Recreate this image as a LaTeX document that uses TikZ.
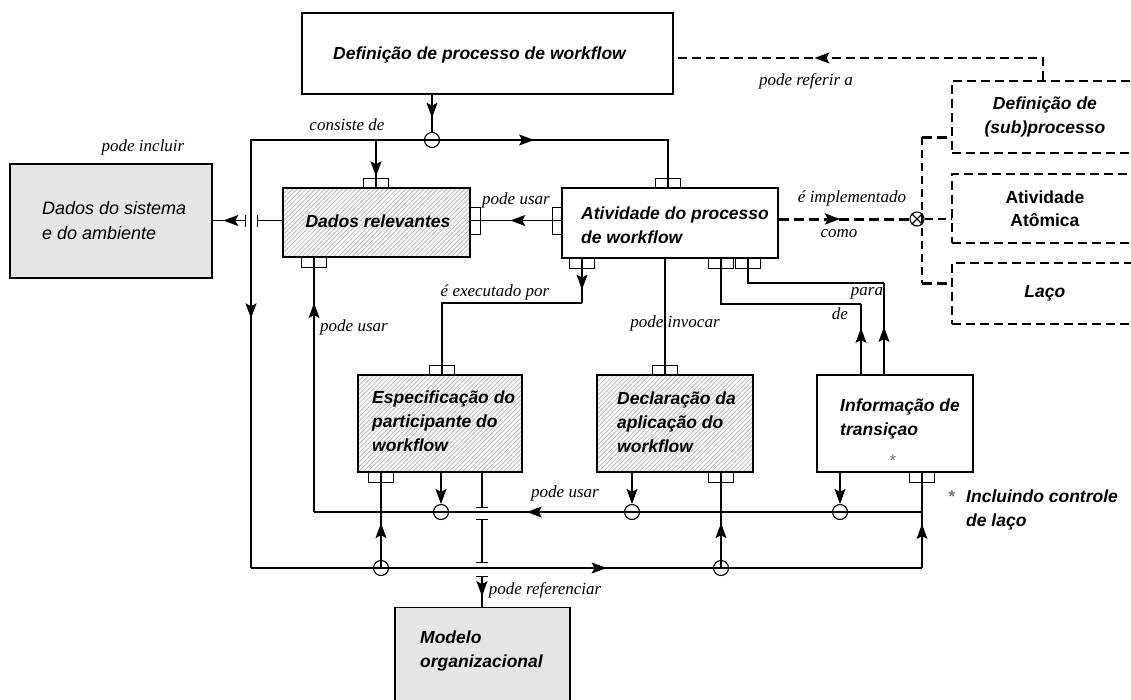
\documentclass[tikz,border=0pt]{standalone}
\usepackage{fontspec}
\newfontfamily\sansfam{Liberation Sans}
\newfontfamily\labelfam{Liberation Serif}
\usetikzlibrary{arrows.meta,patterns.meta,decorations.markings,calc}
\definecolor{boxgray}{gray}{0.90}
\definecolor{hatchbg}{gray}{0.96}
\definecolor{hatchln}{gray}{0.68}
\definecolor{stargray}{gray}{0.45}

\tikzset{
  conn/.style={line width=1.1pt},
  dconn/.style={line width=1.8pt, dash pattern=on 9pt off 5pt},
  dthick/.style={line width=3pt, dash pattern=on 10pt off 5pt},
  dthin/.style={line width=1.3pt, dash pattern=on 8pt off 5pt},
  tipend/.style={-{Stealth[length=15pt,width=11pt,inset=3pt]}},
  midtip/.style={postaction={decorate, decoration={markings,
      mark=at position #1 with {\arrow{Stealth[length=15pt,width=11pt,inset=3pt]}}}}},
  barend/.style={-{Bar[width=12pt,line width=1.1pt]}},
  barstart/.style={{Bar[width=12pt,line width=1.1pt]}-},
  barboth/.style={{Bar[width=12pt,line width=1.1pt]}-{Bar[width=12pt,line width=1.1pt]}},
  frame/.style={draw, line width=1.1pt, inner sep=0pt},
  graybox/.style={frame, fill=boxgray},
  hatchbox/.style={frame, preaction={fill=hatchbg},
      pattern={Lines[angle=45,distance=3.2pt,line width=0.5pt]}, pattern color=hatchln},
  plainbox/.style={frame, fill=white},
  dashbox/.style={draw, line width=1.8pt, dash pattern=on 9pt off 5pt, inner sep=0pt,
      align=center, font=\sansfam\bfseries\itshape\fontsize{17.5}{24}\selectfont},
  boxtext/.style={inner sep=0pt, align=left, anchor=west,
      font=\sansfam\bfseries\itshape\fontsize{17.5}{24}\selectfont},
  porth/.style={draw, line width=0.9pt, minimum width=25pt, minimum height=10pt, inner sep=0pt},
  portv/.style={draw, line width=0.9pt, minimum width=10pt, minimum height=27pt, inner sep=0pt},
  junc/.style={circle, draw, line width=1.1pt, minimum size=15pt, inner sep=0pt},
  lbl/.style={inner sep=0pt, font=\labelfam\itshape\fontsize{17}{19}\selectfont},
}

\begin{document}
\begin{tikzpicture}[x=1pt,y=-1pt]
\useasboundingbox (0,0) rectangle (1131,699);
\clip (0,0) rectangle (1131,699);
\fill[white] (0,0) rectangle (1131,699);

% ---------- boxes ----------
\node[plainbox, minimum width=371pt, minimum height=81pt] (defwf) at (487.5,53.5) {};
\node[boxtext, anchor=center] (defwfT) at (479.5,55) {Definição de processo de workflow};

\node[graybox, minimum width=202pt, minimum height=114pt] (sistema) at (111,221) {};
\node[boxtext, font=\sansfam\itshape\fontsize{18}{25}\selectfont] (sistemaT) at (42,220.5) {Dados do sistema\\e do ambiente};

\node[hatchbox, minimum width=187pt, minimum height=69pt] (relev) at (376.5,222.5) {};
\node[boxtext, anchor=center] (relevT) at (378,221) {Dados relevantes};

\node[plainbox, minimum width=216pt, minimum height=70pt] (ativ) at (670,223) {};
\node[boxtext] (ativT) at (581,225) {Atividade do processo\\de workflow};

\node[hatchbox, minimum width=164pt, minimum height=97pt] (espec) at (440,423.5) {};
\node[boxtext] (especT) at (372,421) {Especificação do\\participante do\\workflow};

\node[hatchbox, minimum width=156pt, minimum height=97pt] (decl) at (675,423.5) {};
\node[boxtext] (declT) at (617,422.5) {Declaração da\\aplicação do\\workflow};

\node[plainbox, minimum width=156pt, minimum height=97pt] (info) at (895,423.5) {};
\node[boxtext] (infoT) at (840,418.5) {Informação de\\transiçao};
\node[text=stargray, font=\sansfam\fontsize{17}{20}\selectfont, inner sep=0pt] (infoStar) at (893,461) {*};

\node[graybox, minimum width=175pt, minimum height=110pt, anchor=north] (modelo) at (482.5,607) {};
\node[boxtext] (modeloT) at (420,651) {Modelo\\organizacional};

% dashed boxes on the right
\node[dashbox, minimum width=186pt, minimum height=72pt, anchor=north west] (subproc) at (951,80) {Definição de\\(sub)processo};
\node[dashbox, minimum width=186pt, minimum height=69pt, anchor=north west,
      font=\sansfam\bfseries\fontsize{17.5}{23}\selectfont] (atom) at (951,173) {Atividade\\Atômica};
\node[dashbox, minimum width=186pt, minimum height=61pt, anchor=north west] (laco) at (951,262) {Laço};

% footnote
\node[text=stargray, font=\sansfam\bfseries\fontsize{17}{20}\selectfont, inner sep=0pt] (noteStar) at (952,497) {*};
\node[boxtext] (noteT) at (966,509.5) {Incluindo controle\\de laço};

% ---------- ports ----------
\node[porth] (pRt) at (376,183) {};
\node[portv] (pRr) at (475,220.5) {};
\node[porth] (pRb) at (314,262) {};
\node[porth] (pAt) at (668,183) {};
\node[portv] (pAl) at (557,220.5) {};
\node[porth] (pAb1) at (582,263) {};
\node[porth] (pAb2) at (721,263) {};
\node[porth] (pAb3) at (748,263) {};
\node[porth] (pEt) at (442,370) {};
\node[porth] (pEb) at (381,477) {};
\node[porth] (pDt) at (665,370) {};
\node[porth] (pDb) at (721,477) {};
\node[porth] (pIb) at (922,477) {};

% ---------- junctions ----------
\node[junc] (j1) at (432,140) {};
\node[junc] (jb1) at (381,568) {};
\node[junc] (jb2) at (721,568) {};
\node[junc] (ju1) at (441,512) {};
\node[junc] (ju2) at (632,512) {};
\node[junc] (ju3) at (840,512) {};
\node[circle, draw, line width=1.1pt, minimum size=14pt, inner sep=0pt] (oplus) at (917,219) {};
\draw[line width=1.1pt] (oplus.north east) -- (oplus.south west)
                        (oplus.north west) -- (oplus.south east);

% ---------- corner points ----------
\coordinate (tl) at (251,140);
\coordinate (bl) at (251,568);
\coordinate (br) at (922,568);
\coordinate (ur) at (922,512);
\coordinate (ul) at (314,512);
\coordinate (ex) at (582,303);
\coordinate (deC) at (861,304);
\coordinate (paraC) at (884,283);
\coordinate (brkR) at (257,220.5);
\coordinate (brkL) at (246,220.5);
\coordinate (cutA) at (482,508);
\coordinate (cutB1) at (482,519);
\coordinate (cutB2) at (482,563);
\coordinate (cutC) at (482,576);
\coordinate (refTop) at (1043,58);
\coordinate (vTop) at (922,137);
\coordinate (vBot) at (922,283);

% ---------- solid connectors ----------
\draw[conn, midtip=0.62] (j1 |- defwf.south) -- (j1.north);
\draw[conn, midtip=0.36] (j1.center) -| (pAt |- ativ.north);
\draw[conn, midtip=0.76] (pRt |- tl) -- (pRt |- relev.north);
\draw[conn, midtip=0.59] (j1.center) -- (tl) -- (bl);
\draw[conn, midtip=0.53] (bl) -- (br);
\draw[conn, midtip=0.46] (br) -- (pIb |- info.south);
\draw[conn, midtip=0.47] (jb1.center) -- (pEb |- espec.south);
\draw[conn, midtip=0.47] (jb2.center) -- (pDb |- decl.south);
\draw[conn, midtip=0.65] (ur) -- (ul);
\draw[conn, midtip=0.82] (ul) -- (pRb |- relev.south);
\draw[conn, tipend] (ju1 |- espec.south) -- (ju1.north);
\draw[conn, tipend] (ju2 |- decl.south) -- (ju2.north);
\draw[conn, tipend] (ju3 |- info.south) -- (ju3.north);
\draw[conn, midtip=0.56] (ativ.west |- pAl) -- (relev.east |- pRr);
\draw[conn, barend] (relev.west |- brkR) -- (brkR);
\draw[conn, barstart, midtip=0.68] (brkL) -- (sistema.east |- brkL);
\draw[conn, midtip=0.7] (pAb1 |- ativ.south) -- (ex);
\draw[conn] (ex) -| (pEt |- espec.north);
\draw[conn] (pDt |- ativ.south) -- (pDt |- decl.north);
\draw[conn, midtip=0.66] (deC |- info.north) -- (deC);
\draw[conn] (deC) -| (pAb2 |- ativ.south);
\draw[conn, midtip=0.52] (paraC |- info.north) -- (paraC);
\draw[conn] (paraC) -| (pAb3 |- ativ.south);
\draw[conn, barend] (cutA |- espec.south) -- (cutA);
\draw[conn, barboth] (cutB1) -- (cutB2);
\draw[conn, barstart, midtip=0.65] (cutC) -- (cutC |- modelo.north);

% ---------- dashed connectors ----------
\draw[dconn, midtip=0.64] (subproc.north -| refTop) -- (refTop) -- (defwf.east |- refTop);
\draw[dthick, midtip=0.47] (oplus -| ativ.east) -- (oplus.west);
\draw[dthin] (vTop) -- (vBot);
\draw[dthick] (vTop) -- (vTop -| subproc.west);
\draw[dthick] (vBot) -- (vBot -| laco.west);
\draw[dthin] (oplus.east) -- (oplus -| atom.west);

% ---------- labels ----------
\node[lbl] (lInc) at (143,147) {pode incluir};
\node[lbl] (lCons) at (347,125) {consiste de};
\node[lbl] (lUsa1) at (516,200) {pode usar};
\node[lbl] (lImpl) at (852,198) {é implementado};
\node[lbl] (lComo) at (839,234) {como};
\node[lbl] (lRef) at (806,81) {pode referir a};
\node[lbl] (lExec) at (495,292) {é executado por};
\node[lbl] (lInv) at (675,323) {pode invocar};
\node[lbl] (lPara) at (867,293) {para};
\node[lbl] (lDe) at (840,314) {de};
\node[lbl] (lUsa2) at (354,327) {pode usar};
\node[lbl] (lUsa3) at (565,493) {pode usar};
\node[lbl] (lRefc) at (545,590) {pode referenciar};
\end{tikzpicture}
\end{document}
